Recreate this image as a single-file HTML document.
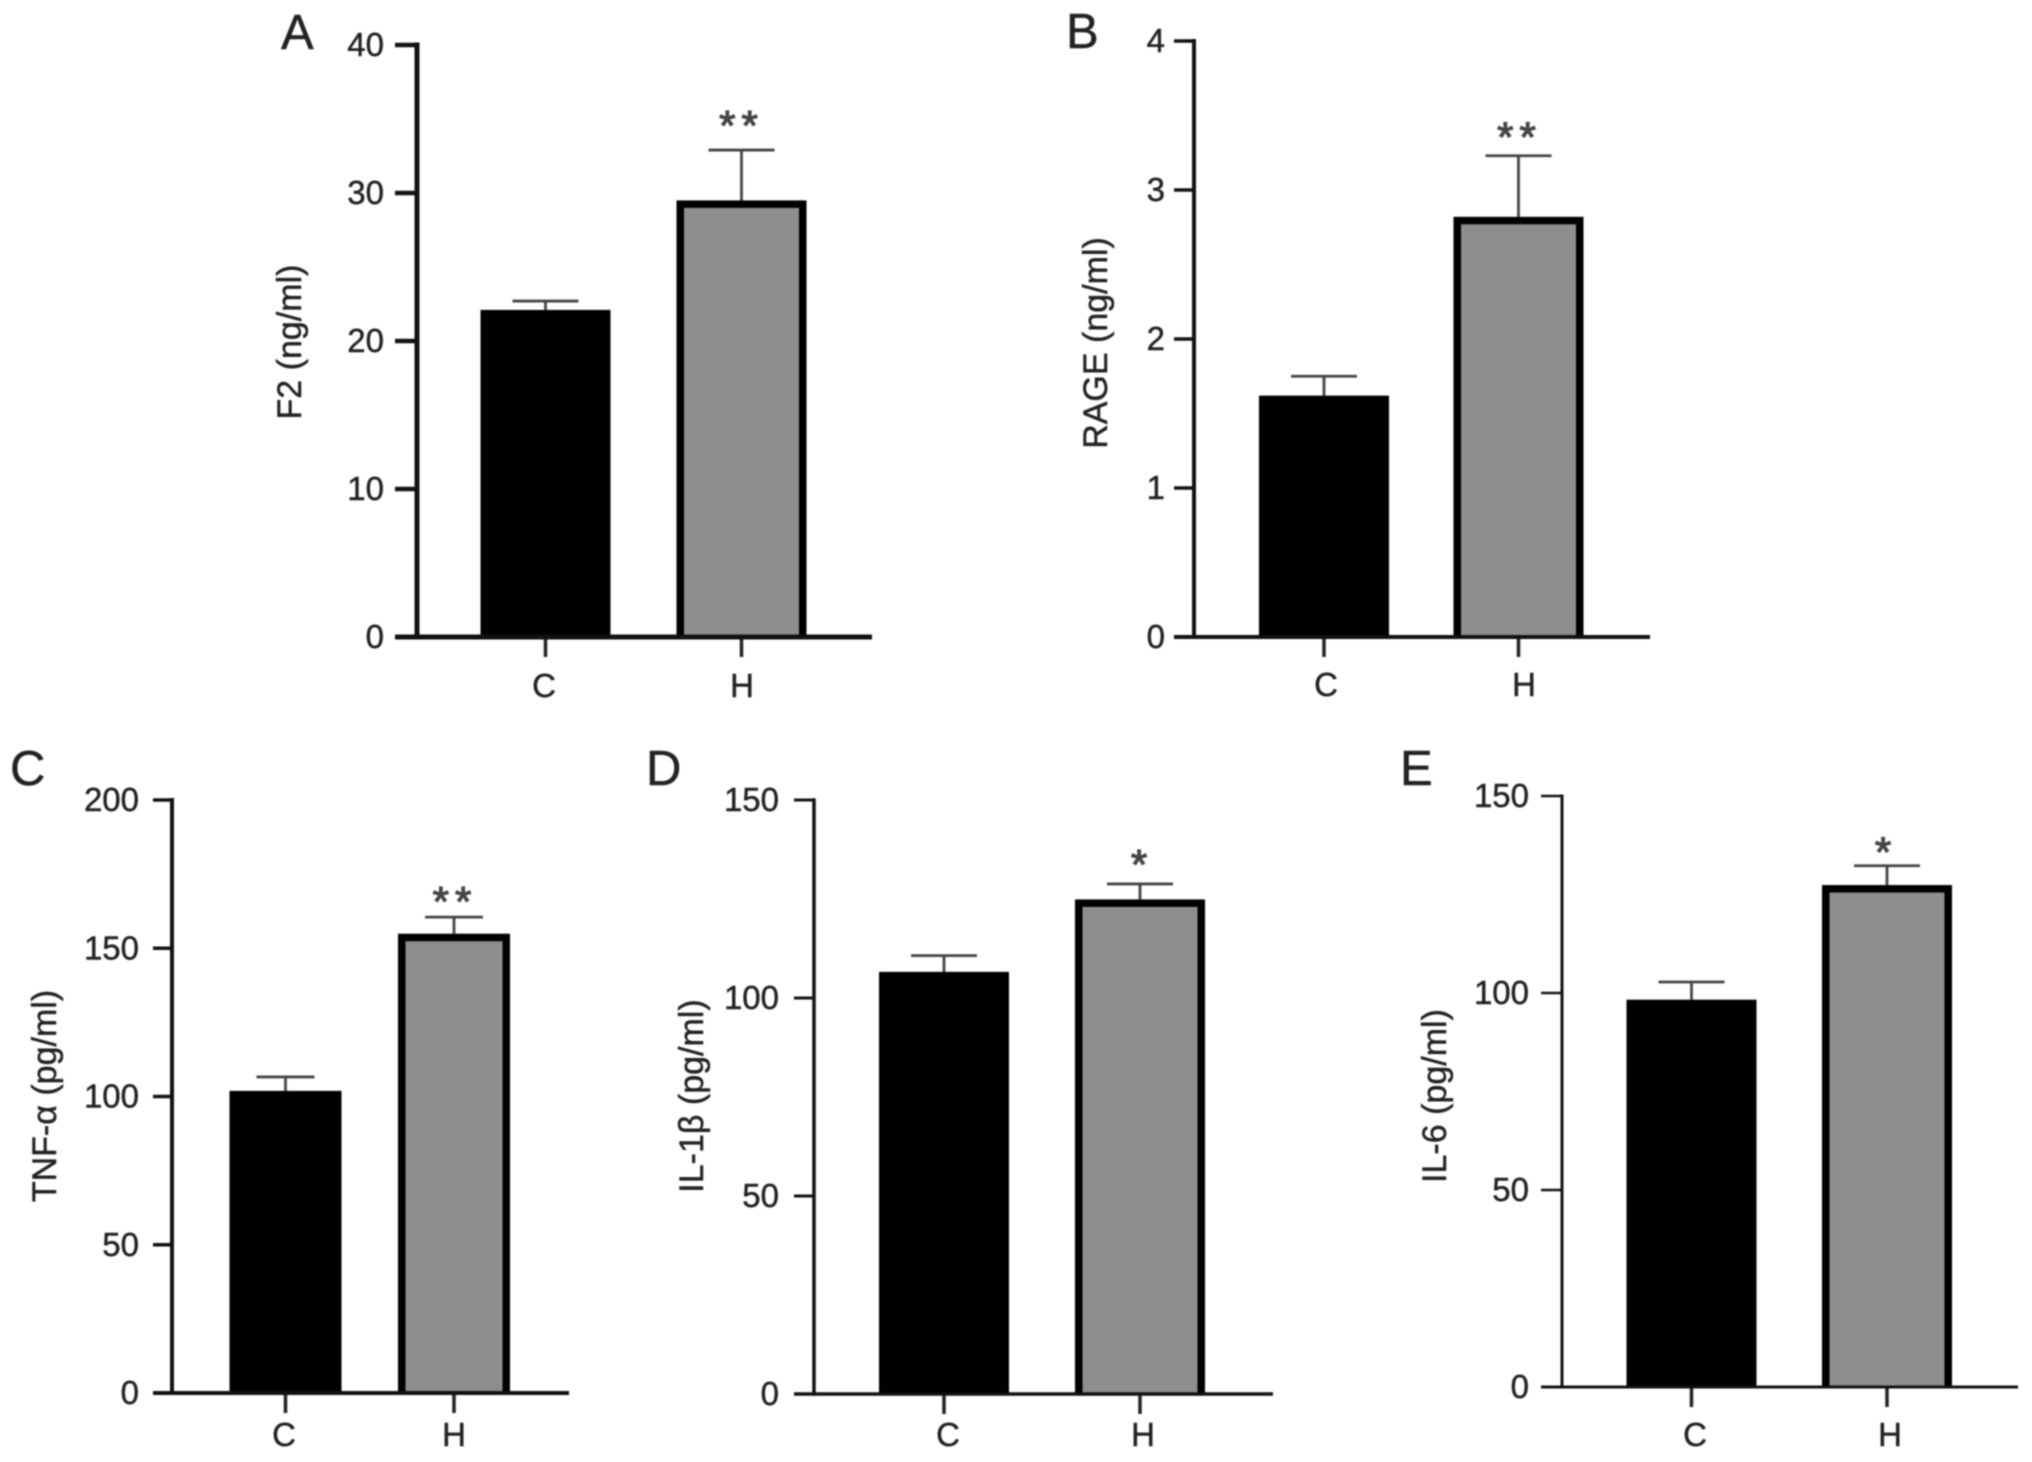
<!DOCTYPE html>
<html lang="en">
<head>
<meta charset="utf-8">
<title>Serum marker bar charts</title>
<style>
  html, body { margin: 0; padding: 0; background: #fff; width: 2032px; height: 1462px; overflow: hidden; }
  svg { display: block; filter: blur(0.7px); }
  text { font-family: "Liberation Sans", "DejaVu Sans", sans-serif; fill: #222; stroke: #222; stroke-width: 0.45px; }
</style>
</head>
<body>
<svg id="figure" width="2032" height="1462" viewBox="0 0 2032 1462" xmlns="http://www.w3.org/2000/svg"></svg>
<script>
// ---- Data ----
const categories = ['C', 'H'];

const ticksA = [0, 10, 20, 30, 40];
const ticksB = [0, 1, 2, 3, 4];
const ticksC = [0, 50, 100, 150, 200];
const ticksD = [0, 50, 100, 150];
const ticksE = [0, 50, 100, 150];

const meansA = [22.1, 29.5];
const meansB = [1.62, 2.82];
const meansC = [101.9, 154.9];
const meansD = [106.6, 124.9];
const meansE = [98.3, 127.4];

const errorsA = [0.6, 3.4];
const errorsB = [0.13, 0.41];
const errorsC = [4.7, 5.6];
const errorsD = [4.1, 3.9];
const errorsE = [4.5, 4.9];

const significanceA = ['', '**'];
const significanceB = ['', '**'];
const significanceC = ['', '**'];
const significanceD = ['', '*'];
const significanceE = ['', '*'];

// ---- Layout, one entry per panel ----
const panels = [
  { id: 'a', letter: 'A', title: 'F2 (ng/ml)', ticks: ticksA, means: meansA, errors: errorsA, sig: significanceA,
    axisX: 417, topY: 45, zeroY: 637, tickLeft: 395, right: 872, centers: [545.5, 741.5], barW: 130, capW: 66,
    lineW: 5, labelRight: 384, letterX: 281, letterY: 49, titleX: 301, titleY: 342, catLabelX: [544, 742], catY: 697, starGap: 31, starDx: 0 },
  { id: 'b', letter: 'B', title: 'RAGE (ng/ml)', ticks: ticksB, means: meansB, errors: errorsB, sig: significanceB,
    axisX: 1194, topY: 41, zeroY: 637, tickLeft: 1174, right: 1650, centers: [1324, 1518.5], barW: 130, capW: 66,
    lineW: 4, labelRight: 1165, letterX: 1066, letterY: 48, titleX: 1107, titleY: 343, catLabelX: [1326, 1524], catY: 696, starGap: 25, starDx: 1 },
  { id: 'c', letter: 'C', title: 'TNF-α (pg/ml)', ticks: ticksC, means: meansC, errors: errorsC, sig: significanceC,
    axisX: 172, topY: 800, zeroY: 1393, tickLeft: 153, right: 569, centers: [285.5, 454], barW: 112, capW: 58,
    lineW: 4, labelRight: 139, letterX: 10, letterY: 785, titleX: 56, titleY: 1096, catLabelX: [284, 454], catY: 1446, starGap: 22, starDx: 1 },
  { id: 'd', letter: 'D', title: 'IL-1β (pg/ml)', ticks: ticksD, means: meansD, errors: errorsD, sig: significanceD,
    axisX: 814, topY: 800, zeroY: 1394, tickLeft: 794, right: 1273, centers: [944, 1140], barW: 130, capW: 66,
    lineW: 3.5, labelRight: 779, letterX: 646, letterY: 785, titleX: 703, titleY: 1096, catLabelX: [948, 1143], catY: 1446, starGap: 26, starDx: -1 },
  { id: 'e', letter: 'E', title: 'IL-6 (pg/ml)', ticks: ticksE, means: meansE, errors: errorsE, sig: significanceE,
    axisX: 1562, topY: 796, zeroY: 1387, tickLeft: 1541, right: 2018, centers: [1691.5, 1887], barW: 130, capW: 66,
    lineW: 3, labelRight: 1529, letterX: 1400, letterY: 785, titleX: 1446, titleY: 1096, catLabelX: [1695, 1890], catY: 1446, starGap: 20, starDx: -4 }
];

const SVG_NS = 'http://www.w3.org/2000/svg';
const figure = document.getElementById('figure');

function make(tag, parent) {
  const el = document.createElementNS(SVG_NS, tag);
  parent.appendChild(el);
  return el;
}
function setAll(el, attrs) {
  Object.keys(attrs).forEach(function (k) { el.setAttribute(k, attrs[k]); });
  return el;
}
function yScale(p) {
  const max = p.ticks[p.ticks.length - 1];
  return function (v) { return p.zeroY - (v / max) * (p.zeroY - p.topY); };
}

panels.forEach(function (p) {
  const y = yScale(p);
  const g = make('g', figure);
  
  

  const letter = make('text', g);
  
  
  setAll(letter, { x: p.letterX, y: p.letterY, 'font-size': 49 });
  letter.textContent = p.letter;

  const title = make('text', g);
  
  
  setAll(title, { x: p.titleX, y: p.titleY, 'font-size': 34, 'text-anchor': 'middle',
    transform: 'rotate(-90 ' + p.titleX + ' ' + p.titleY + ')' });
  title.textContent = p.title;

  // Bars, error bars, significance marks
  categories.forEach(function (cat, i) {
    const cx = p.centers[i];
    const top = y(p.means[i]);
    const errTop = y(p.means[i] + p.errors[i]);

    const stem = make('line', g);
    
    
    setAll(stem, { x1: cx, x2: cx, y1: top, y2: errTop, stroke: '#444', 'stroke-width': 2.8 });

    const cap = make('line', g);
    
    
    setAll(cap, { x1: cx - p.capW / 2, x2: cx + p.capW / 2, y1: errTop, y2: errTop, stroke: '#444', 'stroke-width': 2.8 });

    const bar = make('rect', g);
    
    
    setAll(bar, { x: cx - p.barW / 2, y: top, width: p.barW, height: p.zeroY - top, fill: '#000' });

    if (i === 1) {
      const bw = 7.5;
      const fill = make('rect', g);
      
      
      setAll(fill, { x: cx - p.barW / 2 + bw, y: top + bw, width: p.barW - 2 * bw,
        height: p.zeroY - top - bw, fill: '#8e8e8e' });
    }

    if (p.sig[i]) {
      const star = make('text', g);
      
      
      setAll(star, { x: cx + p.starDx, y: errTop - p.starGap + 21, 'font-size': 42, 'text-anchor': 'middle',
        'letter-spacing': p.sig[i].length > 1 ? 6 : 0 });
      star.style.fill = '#444';
      star.style.stroke = '#444';
      star.style.strokeWidth = '1.2px';
      star.textContent = p.sig[i];
    }

    const tick = make('line', g);
    
    
    setAll(tick, { x1: cx, x2: cx, y1: p.zeroY, y2: p.zeroY + 20, stroke: '#222', 'stroke-width': 3.5 });

    const label = make('text', g);
    
    
    setAll(label, { x: p.catLabelX[i], y: p.catY, 'font-size': 33, 'text-anchor': 'middle' });
    label.textContent = cat;
  });

  // Y ticks and labels
  p.ticks.forEach(function (t) {
    const ty = y(t);
    const tick = make('line', g);
    
    
    setAll(tick, { x1: p.tickLeft, x2: p.axisX, y1: ty, y2: ty, stroke: '#111', 'stroke-width': p.lineW - 0.5 });

    const label = make('text', g);
    
    
    setAll(label, { x: p.labelRight, y: ty + 11, 'font-size': 33, 'text-anchor': 'end' });
    label.textContent = t;
  });

  // Axes
  const yAxis = make('line', g);
  
  
  setAll(yAxis, { x1: p.axisX, x2: p.axisX, y1: p.topY - p.lineW / 2, y2: p.zeroY + p.lineW / 2, stroke: '#111', 'stroke-width': p.lineW });

  const xAxis = make('line', g);
  
  
  setAll(xAxis, { x1: p.tickLeft, x2: p.right, y1: p.zeroY, y2: p.zeroY, stroke: '#111', 'stroke-width': p.lineW });
});
</script>
</body>
</html>
